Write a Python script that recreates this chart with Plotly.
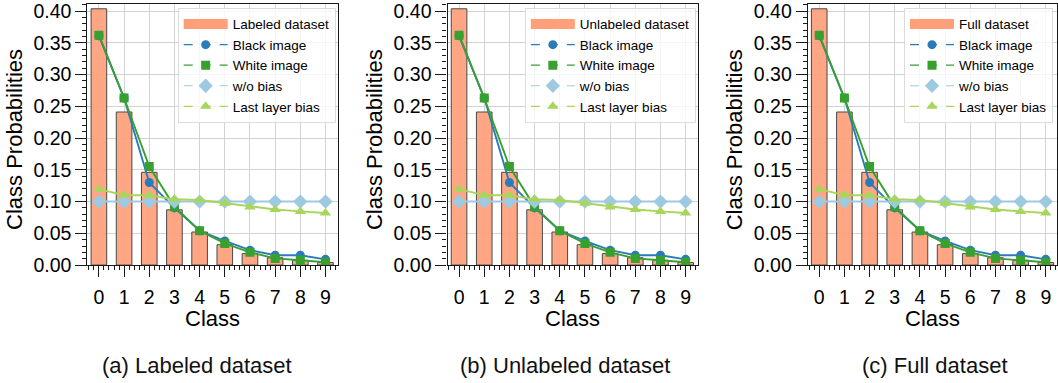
import plotly.graph_objects as go

W, H = 1058, 383

classes = list(range(10))
labeled = [0.4035, 0.241, 0.146, 0.087, 0.052, 0.032, 0.018, 0.0115, 0.0075, 0.004]
unlabeled = [0.4035, 0.241, 0.146, 0.087, 0.052, 0.032, 0.018, 0.0115, 0.0075, 0.004]
full = [0.4035, 0.241, 0.146, 0.087, 0.052, 0.032, 0.018, 0.0115, 0.0075, 0.004]
black_image = [0.361, 0.263, 0.130, 0.090, 0.054, 0.038, 0.0235, 0.0155, 0.0155, 0.009]
white_image = [0.362, 0.263, 0.155, 0.092, 0.054, 0.034, 0.020, 0.0105, 0.0075, 0.0045]
wo_bias = [0.1] * 10
last_layer_bias = [0.1195, 0.110, 0.110, 0.1035, 0.1025, 0.0975, 0.0915, 0.0875, 0.0845, 0.082]

bar_names = ["Labeled dataset", "Unlabeled dataset", "Full dataset"]
bar_values = [labeled, unlabeled, full]
captions = ["(a) Labeled dataset", "(b) Unlabeled dataset", "(c) Full dataset"]
y_ticks = [0.0, 0.05, 0.10, 0.15, 0.20, 0.25, 0.30, 0.35, 0.40]

series = [
    ("Black image", black_image, "#2b7bb9", "circle", 9),
    ("White image", white_image, "#37a02f", "square", 9),
    ("w/o bias", wo_bias, "#9ecae1", "diamond", 11),
    ("Last layer bias", last_layer_bias, "#a8d65a", "triangle-up", 10),
]

BAR_COLOR = "#FFA07A"
FONT = "Liberation Sans, Arial, sans-serif"

# pixel layout
panel_l = [87.5, 448.0, 808.5]
panel_r = [338.0, 698.5, 1058.0]
x0_px = [99.0, 459.5, 820.0]
unit_px = 25.2
plot_top, plot_bot = 0.0, 271.7
caption_x = [196.7, 565.5, 936.3]

fig = go.Figure()

for i in range(3):
    ax = "" if i == 0 else str(i + 1)
    xref, yref = "x" + ax, "y" + ax
    leg = "legend" if i == 0 else "legend" + str(i + 1)

    fig.add_trace(go.Bar(
        x=classes, y=bar_values[i], width=0.62,
        marker=dict(color=BAR_COLOR, opacity=0.92, line=dict(color="#3a3a3a", width=1)),
        xaxis=xref, yaxis=yref, showlegend=False, name=bar_names[i],
    ))
    for name, vals, col, sym, sz in series:
        fig.add_trace(go.Scatter(
            x=classes, y=vals, mode="lines+markers",
            line=dict(color=col, width=1.9),
            marker=dict(symbol=sym, size=sz, color=col),
            xaxis=xref, yaxis=yref, showlegend=False, name=name,
        ))
    # legend entries (styled like the reference legend handles)
    fig.add_trace(go.Scatter(
        x=[None], y=[None], mode="lines", name=bar_names[i],
        line=dict(color=BAR_COLOR, width=10),
        xaxis=xref, yaxis=yref, legend=leg,
    ))
    for name, vals, col, sym, sz in series:
        fig.add_trace(go.Scatter(
            x=[None], y=[None], mode="lines+markers", name=name,
            line=dict(color=col, width=1.2, dash="dash"),
            marker=dict(symbol=sym, size=sz, color=col),
            xaxis=xref, yaxis=yref, legend=leg,
        ))

    xr = [(panel_l[i] - x0_px[i]) / unit_px, (panel_r[i] - x0_px[i]) / unit_px]
    common = dict(
        showline=True, linecolor="#1a1a1a", linewidth=1.2, mirror=True,
        showgrid=True, gridcolor="#d3d3d3", gridwidth=1,
        ticks="outside", ticklen=11, tickwidth=1.2, tickcolor="#1a1a1a",
        tickfont=dict(family=FONT, size=19.5, color="black"),
        ticklabeloverflow="allow",
        zeroline=False,
    )
    fig.update_layout(**{
        "xaxis" + ax: dict(
            domain=[panel_l[i] / W, panel_r[i] / W], range=xr,
            tickmode="array", tickvals=classes, ticktext=[str(c) for c in classes],
            anchor=yref, ticklabelstandoff=3,
            minor=dict(tickmode="linear", tick0=0, dtick=0.2, ticks="outside",
                       ticklen=4, tickwidth=1, tickcolor="#1a1a1a", showgrid=False),
            **common,
        ),
        "yaxis" + ax: dict(
            domain=[1 - plot_bot / H, 1 - plot_top / H],
            range=[0, (plot_bot - plot_top) / 661.0],
            tickmode="array", tickvals=y_ticks, ticktext=[f"{v:.2f}" for v in y_ticks],
            anchor=xref,
            minor=dict(tickmode="linear", tick0=0, dtick=0.01, ticks="outside",
                       ticklen=4, tickwidth=1, tickcolor="#1a1a1a", showgrid=False),
            **common,
        ),
        leg: dict(
            x=(panel_r[i] - 2) / W if i < 2 else (panel_r[i] - 4) / W,
            xanchor="right", y=1 - 4 / H, yanchor="top",
            bgcolor="rgba(255,255,255,0.8)", bordercolor="#dcdcdc", borderwidth=1,
            font=dict(family=FONT, size=13.5, color="black"),
            itemwidth=44, tracegroupgap=0,
        ),
    })

annotations = []
for i in range(3):
    annotations.append(dict(
        x=(x0_px[i] + 4.5 * unit_px) / W, y=1 - 327 / H, xref="paper", yref="paper",
        text="Class", showarrow=False, xanchor="center", yanchor="middle",
        font=dict(family=FONT, size=22, color="black"),
    ))
    annotations.append(dict(
        x=(panel_l[i] - 73) / W, y=1 - 141 / H, xref="paper", yref="paper",
        text="Class Probabilities", showarrow=False, textangle=-90,
        xanchor="center", yanchor="middle",
        font=dict(family=FONT, size=22, color="black"),
    ))
    annotations.append(dict(
        x=caption_x[i] / W, y=1 - 376 / H, xref="paper", yref="paper",
        text=captions[i], showarrow=False, xanchor="center", yanchor="middle",
        font=dict(family=FONT, size=22, color="#111111"),
    ))

fig.update_layout(
    width=W, height=H,
    margin=dict(l=0, r=0, t=0, b=0),
    paper_bgcolor="white", plot_bgcolor="white",
    font=dict(family=FONT, color="black"),
    barmode="overlay",
    annotations=annotations,
)

fig.write_html("out.html", config={"displayModeBar": False})
